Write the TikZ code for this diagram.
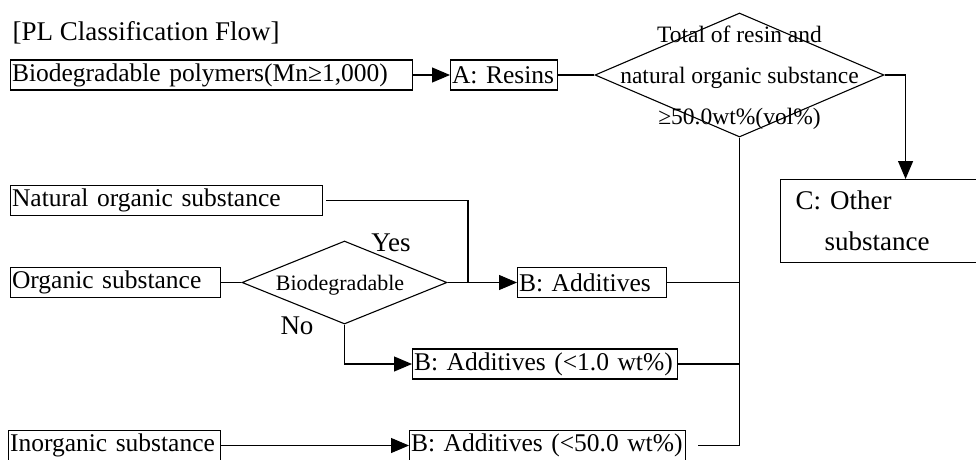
\documentclass[tikz,border=0pt]{standalone}
\usepackage{fontspec}
\setmainfont{Liberation Serif}
\usetikzlibrary{arrows.meta,shapes.geometric,positioning,calc}

\tikzset{
    box/.style={draw, rectangle, inner xsep=1.5pt, inner ysep=1pt, minimum height=30pt,
        text width=#1, align=left, font=\fontsize{25.5}{30}\selectfont,
        execute at begin node={\leavevmode\hbox\bgroup},
        execute at end node={\egroup}},
    dec/.style={draw, diamond, inner sep=0pt},
    arr/.style={-{Triangle[length=18pt,width=15pt]}},
    lbl/.style={inner sep=0pt, font=\fontsize{27}{30}\selectfont},
}

\begin{document}
\begin{tikzpicture}[x=1pt, y=-1pt, line width=1.1pt]
    \useasboundingbox (0,0) rectangle (976,459);

    \node[lbl, anchor=west] (title) at (12,33) {[PL Classification Flow]};

    % resins and the first decision
    \node[box=399pt, anchor=west] (bio) at (10,75) {Biodegradable polymers(Mn≥1,000)};
    \node[box=104pt, anchor=west] (resin) at (450,75) {A: Resins};
    \node[dec, minimum width=289pt, minimum height=124pt] (total) at (739.5,75) {};
    \node[lbl, align=center, font=\fontsize{23.5}{41}\selectfont] (totaltxt) at (739.5,77.5)
        {Total of resin and\\natural organic substance\\≥50.0wt\%(vol\%)};
    \node[draw, rectangle, anchor=north west, minimum height=83pt, text width=220pt,
        inner xsep=15pt, align=left, font=\fontsize{27}{41}\selectfont] (other) at (780,179)
        {C: Other\\\hspace*{29pt}substance};

    % additives
    \node[box=309pt, anchor=west] (natural) at (10,200.5) {Natural organic substance};
    \node[box=207pt, anchor=west] (organic) at (10,282.5) {Organic substance};
    \node[dec, minimum width=205pt, minimum height=83pt] (biodeg) at (344.5,282.5) {};
    \node[lbl, font=\fontsize{22}{26}\selectfont] (biodegtxt) at (340,285) {Biodegradable};
    \node[lbl] (yes) at (391,243) {Yes};
    \node[lbl] (no) at (297,326) {No};
    \node[box=146pt, anchor=west] (addB) at (517,282.5) {B: Additives};
    \node[box=262pt, anchor=west] (addBa) at (412,364) {B: Additives (<1.0 wt\%)};
    \node[box=209pt, anchor=west] (inorg) at (8,445.5) {Inorganic substance};
    \node[box=273pt, anchor=west] (addBb) at (409,445.5) {B: Additives (<50.0 wt\%)};

    \coordinate (join) at (468,282.5);

    % connectors
    \draw[arr] (bio.east) -- (resin.west);
    \draw (resin.east) -- (total.west);
    \draw[arr] (total.east) -| (other.north);
    \draw ([xshift=3pt]natural.east) -| (join);
    \draw (organic.east) -- (biodeg.west);
    \draw[arr] (biodeg.east) -- (addB.west);
    \draw[arr] (biodeg.south) |- (addBa.west);
    \draw[arr] (inorg.east) -- (addBb.west);
    \draw (total.south) -- (addBb.east -| total.south);
    \draw (addB.east) -- (addB.east -| total.south);
    \draw (addBa.east) -- (addBa.east -| total.south);
    \draw ([xshift=12pt]addBb.east) -- (addBb.east -| total.south);
\end{tikzpicture}
\end{document}
